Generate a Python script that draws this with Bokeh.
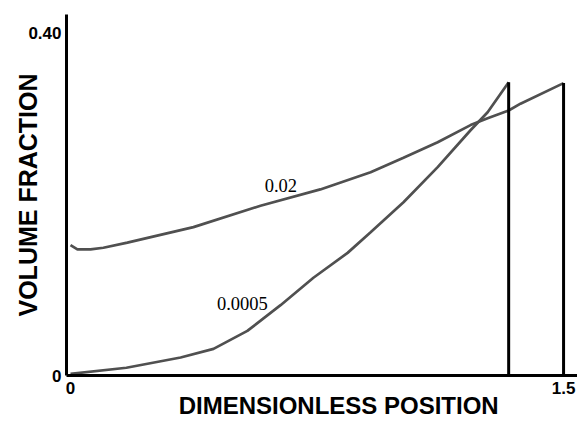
from bokeh.plotting import figure
from bokeh.models import Range1d, FixedTicker, ColumnDataSource
from bokeh.core.properties import value
from bokeh.embed import file_html
from bokeh.resources import INLINE

# ---- data ----
series_names = ["0.02", "0.0005"]
x_002 = [0.0, 0.021, 0.061, 0.10, 0.173, 0.374, 0.578, 0.76, 0.913, 1.013, 1.117, 1.217, 1.269, 1.333, 1.369, 1.5]
y_002 = [0.152, 0.147, 0.147, 0.149, 0.155, 0.173, 0.198, 0.217, 0.237, 0.254, 0.272, 0.292, 0.300, 0.309, 0.317, 0.341]
x_0005 = [0.0, 0.17, 0.335, 0.435, 0.538, 0.639, 0.739, 0.843, 0.913, 1.013, 1.117, 1.217, 1.269, 1.333]
y_0005 = [0.002, 0.009, 0.021, 0.031, 0.052, 0.082, 0.114, 0.143, 0.167, 0.202, 0.243, 0.286, 0.307, 0.342]
x_ticks = [0, 1.5]
x_tick_labels = ["0", "1.5"]
y_ticks = [0, 0.4]
y_tick_labels = ["0", "0.40"]
x_title = "DIMENSIONLESS POSITION"
y_title = "VOLUME FRACTION"

# ---- figure ----
p = figure(width=577, height=421, output_backend="svg", toolbar_location=None,
           x_range=Range1d(-0.0122, 1.5424), y_range=Range1d(0, 0.421),
           min_border_left=66, min_border_right=0, min_border_top=14, min_border_bottom=46)
p.outline_line_color = None
p.grid.visible = False
p.background_fill_color = "white"
p.border_fill_color = "white"

curve_color = "#505050"
p.line(x_002, y_002, line_color=curve_color, line_width=2.7)
p.line(x_0005, y_0005, line_color=curve_color, line_width=2.7)

# vertical walls at the end of each profile
walls = ColumnDataSource(dict(x=[x_0005[-1], x_002[-1]],
                              y0=[0, 0],
                              y1=[y_0005[-1], y_002[-1]]))
p.segment(x0="x", y0="y0", x1="x", y1="y1", source=walls, line_color="black", line_width=3)

# curve annotations
lab_src = ColumnDataSource(dict(x=[0.64, 0.523], y=[0.222, 0.084], t=series_names))
p.text(x="x", y="y", text="t", source=lab_src, text_font=value("Liberation Serif"),
       text_font_size="18.5px", text_align="center", text_baseline="middle", text_color="black")

# axes
for ax in (p.xaxis, p.yaxis):
    ax.axis_line_width = 3
    ax.axis_line_color = "black"
    ax.major_tick_in = 0
    ax.major_tick_out = 0
    ax.minor_tick_line_color = None
    ax.major_label_text_font = "Liberation Sans"
    ax.major_label_text_font_style = "bold"
    ax.major_label_text_font_size = "17px"
    ax.major_label_text_color = "black"
    ax.axis_label_text_font = "Liberation Sans"
    ax.axis_label_text_font_style = "bold"
    ax.axis_label_text_color = "black"

p.xaxis.ticker = FixedTicker(ticks=x_ticks)
p.xaxis.major_label_overrides = {t: l for t, l in zip(x_ticks, x_tick_labels)}
p.xaxis.major_label_standoff = 6
p.xaxis.axis_label = "\u00a0" * 5 + x_title
p.xaxis.axis_label_text_font_size = "24px"
p.xaxis.axis_label_standoff = -5

p.yaxis.ticker = FixedTicker(ticks=y_ticks)
p.yaxis.major_label_overrides = {t: l for t, l in zip(y_ticks, y_tick_labels)}
p.yaxis.major_label_standoff = 5
p.yaxis.axis_label = y_title
p.yaxis.axis_label_text_font_size = "25px"
p.yaxis.axis_label_standoff = -17

open("out.html", "w").write(file_html(p, INLINE))
